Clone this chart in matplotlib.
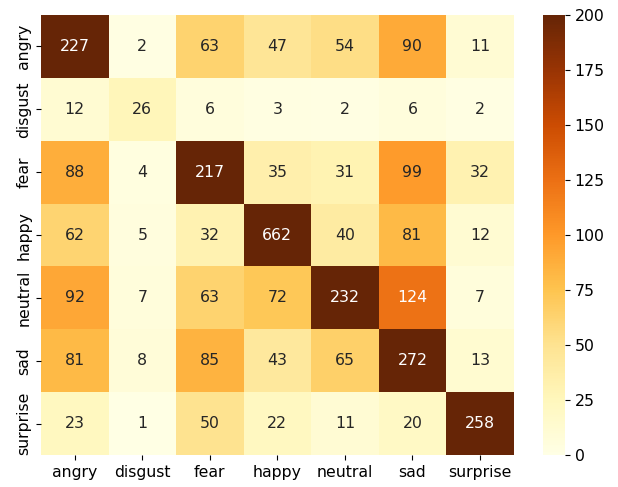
import numpy as np
import matplotlib
matplotlib.use("Agg")
import matplotlib.pyplot as plt
import seaborn as sns

labels = ["angry", "disgust", "fear", "happy", "neutral", "sad", "surprise"]

# rows = true class, columns = predicted class
cm = np.array([
    [227, 2, 63, 47, 54, 90, 11],
    [12, 26, 6, 3, 2, 6, 2],
    [88, 4, 217, 35, 31, 99, 32],
    [62, 5, 32, 662, 40, 81, 12],
    [92, 7, 63, 72, 232, 124, 7],
    [81, 8, 85, 43, 65, 272, 13],
    [23, 1, 50, 22, 11, 20, 258],
])

fig = plt.figure(figsize=(6.18, 4.87), dpi=100)
ax = fig.add_axes([0.0663, 0.0657, 0.765, 0.9035])
cax = fig.add_axes([0.8786, 0.0657, 0.0356, 0.9035])

sns.heatmap(cm, annot=True, fmt="d", cmap="YlOrBr", vmin=0, vmax=200,
            xticklabels=labels, yticklabels=labels, ax=ax, cbar_ax=cax,
            annot_kws={"size": 11.3})

ax.tick_params(axis="both", labelsize=11.3)
plt.setp(ax.get_yticklabels(), rotation=90, va="center")
plt.setp(ax.get_xticklabels(), rotation=0)
cax.tick_params(labelsize=11.3)

fig.savefig("out.png", dpi=100)
